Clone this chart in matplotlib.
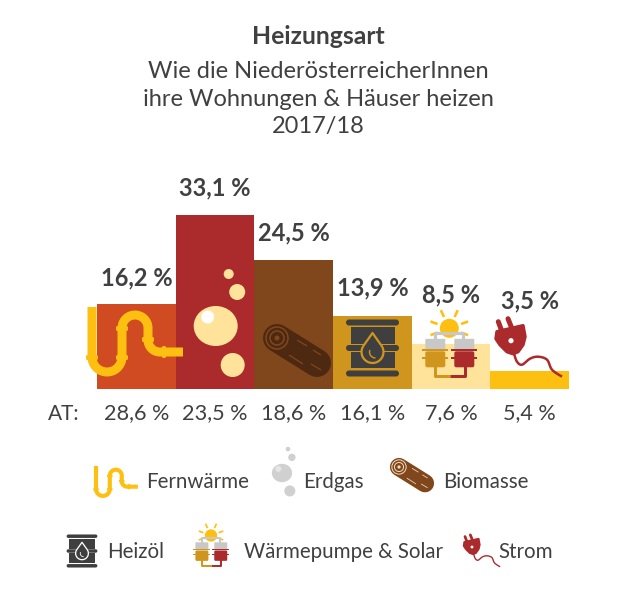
import numpy as np
import matplotlib
matplotlib.use("Agg")
import matplotlib.pyplot as plt
from matplotlib.patches import Circle, Ellipse, Rectangle, FancyBboxPatch

categories = ["Fernwärme", "Erdgas", "Biomasse", "Heizöl", "Wärmepumpe & Solar", "Strom"]
noe_values = [16.2, 33.1, 24.5, 13.9, 8.5, 3.5]
at_values = [28.6, 23.5, 18.6, 16.1, 7.6, 5.4]
bar_colors = ["#D04A22", "#AB2A2C", "#80471C", "#D0951C", "#FFE39B", "#FDC010"]
title = "Heizungsart"
subtitle = ["Wie die NiederösterreicherInnen", "ihre Wohnungen & Häuser heizen", "2017/18"]
label_lift = [26, 27, 27, 28, 49, 70]

TXT = "#404040"; GOLD = "#FDC010"; CREAM = "#FFE39B"; RED = "#AB2A2C"
BROWN = "#80471C"; DARKB = "#4E2912"; OCHRE = "#D0951C"; GREY = "#D0D0D0"; DARK = "#3F3F3F"
W, H = 636, 600
plt.rcParams["font.family"] = ["Lato", "DejaVu Sans"]
fig = plt.figure(figsize=(W / 100, H / 100), dpi=100)

base, top = 389, 215
ax = fig.add_axes([97 / W, 1 - base / H, (569 - 97) / W, (base - top) / H])
ax.set_xlim(-0.5, 5.5); ax.set_ylim(0, max(noe_values)); ax.axis("off")
ax.bar(range(6), noe_values, width=1.0, color=bar_colors, zorder=1, clip_on=False)

ov = fig.add_axes([0, 0, 1, 1], zorder=5)
ov.set_xlim(0, W); ov.set_ylim(H, 0); ov.axis("off"); ov.patch.set_alpha(0)
px = 72 / 100


def fmt(v):
    return f"{v:.1f}".replace(".", ",") + " %"


for i, v in enumerate(noe_values):
    ax.annotate(fmt(v), (i, v), xytext=(0, label_lift[i] * px), textcoords="offset points", ha="center", va="center",
                fontsize=17, fontweight="bold", color=TXT, zorder=6, annotation_clip=False)
    ax.annotate(fmt(at_values[i]), (i, 0), xytext=(0, -24.5 * px), textcoords="offset points", ha="center", va="center",
                fontsize=15.6, color=TXT, zorder=6, annotation_clip=False)
ov.text(48, 413.5, "AT:", ha="left", va="center", fontsize=15, color=TXT)
ov.text(318, 37, title, ha="center", va="center", fontsize=17.8, fontweight="bold", color=TXT)
for t, y in zip(subtitle, [71, 99, 127]):
    ov.text(318, y, t, ha="center", va="center", fontsize=17, color=TXT)


def P(pts, cx, cy, s):
    return [(cx + x * s, cy + y * s) for x, y in pts]


def line(pts, cx, cy, s, color, lw, cap="butt", z=7):
    a = np.array(P(pts, cx, cy, s))
    ov.plot(a[:, 0], a[:, 1], color=color, lw=lw * s * px, solid_capstyle=cap, solid_joinstyle="round", zorder=z)


def arc(c, r, a0, a1, n=24):
    t = np.radians(np.linspace(a0, a1, n))
    return [(c[0] + r * np.cos(k), c[1] + r * np.sin(k)) for k in t]


def smooth(pts, n=10):
    p = np.array([pts[0]] + list(pts) + [pts[-1]], float)
    out = []
    for i in range(1, len(p) - 2):
        for t in np.linspace(0, 1, n, endpoint=False):
            out.append(0.5 * (2 * p[i] + (p[i + 1] - p[i - 1]) * t
                              + (2 * p[i - 1] - 5 * p[i] + 4 * p[i + 1] - p[i + 2]) * t ** 2
                              + (3 * p[i] - p[i - 1] - 3 * p[i + 1] + p[i + 2]) * t ** 3))
    out.append(p[-2])
    return [tuple(q) for q in out]


def rect(x, y, w, h, cx, cy, s, color, z=7, rad=0):
    if rad:
        ov.add_patch(FancyBboxPatch((cx + x * s, cy + y * s), w * s, h * s,
                                    boxstyle=f"round,pad=0,rounding_size={rad * s}", fc=color, ec="none", zorder=z))
    else:
        ov.add_patch(Rectangle((cx + x * s, cy + y * s), w * s, h * s, fc=color, ec="none", zorder=z))


def pipe(cx, cy, s):
    pts = [(92, 307), (92, 357)] + arc((107, 357), 15, 180, 0) + [(122, 328)] + arc((135, 328), 13, 180, 360) + \
          [(148, 340)] + arc((160, 340), 12, 180, 90) + [(183, 352)]
    ox, oy = cx - 92 * s, cy - 307 * s
    line(pts, ox, oy, s, GOLD, 9)
    for x, y, w, h in [(86, 355, 12, 5), (116, 355, 12, 5), (116, 326, 12, 5), (142, 337, 12, 5), (162, 346, 4, 12)]:
        rect(x, y, w, h, ox, oy, s, GOLD, z=8, rad=1.5)


def bubbles(cx, cy, s, col, hl):
    ov.add_patch(Ellipse((cx, cy), 44 * s, 40 * s, fc=col, ec="none", zorder=7))
    ov.add_patch(Circle((cx - 8 * s, cy - 9 * s), 6.5 * s, fc=hl, ec="none", zorder=8))
    for dx, dy, r in [(13, -52, 5), (21.5, -34, 8), (17, 39, 12)]:
        ov.add_patch(Circle((cx + dx * s, cy + dy * s), r * s, fc=col, ec="none", zorder=7))


def log(cx, cy, s, body, ring):
    line([(0, 0), (40, 25)], cx, cy, s, body, 28, cap="round")
    for r in (11, 7):
        ov.add_patch(Circle((cx, cy), r * s, fc="none", ec=ring, lw=max(0.6, 1.1 * s), zorder=8))
    ov.add_patch(Circle((cx, cy), 2.5 * s, fc=ring, ec="none", zorder=8))
    for a, b in [((20, 2), (30, 8)), ((36, 12), (44, 17)), ((12, 17), (26, 26)), ((34, 26), (44, 32))]:
        line([a, b], cx, cy, s, ring, 1.2, z=8)


def barrel(cx, cy, s, gap):
    rect(-22, -21, 44, 17, cx, cy, s, DARK)
    rect(-22, 3.7, 44, 16.5, cx, cy, s, DARK)
    for y in (-25.5, 0, 25.5):
        rect(-26.5, y - 3, 53, 6, cx, cy, s, DARK, z=8, rad=3)
    drop = P([(0, -15)] + arc((0, 4), 11, -35, 215) + [(0, -15)], cx, cy, s)
    ov.add_patch(plt.Polygon(drop, closed=True, fc=DARK, ec=gap, lw=max(0.7, 1.6 * s), joinstyle="round", zorder=9))
    line(arc((3, 4), 6, 90, 200, 10), cx, cy, s, gap, 1.4, z=10)


def heatpump(cx, cy, s):
    ov.add_patch(Circle((cx, cy), 9.5 * s, fc=GOLD, ec="none", zorder=7))
    for a in (200, 245, 295, 340, 160, 20):
        r = np.radians(a)
        line([(12.5 * np.cos(r), 12.5 * np.sin(r)), (20 * np.cos(r), 20 * np.sin(r))], cx, cy, s, GOLD, 2.6)
    line([(-14, 11), (-14, 4.5), (14, 4.5), (14, 11)], cx, cy, s, "#C8C8C8", 3.2, z=8)
    for x0, col in [(-24, OCHRE), (5, RED)]:
        rect(x0, 10.5, 20, 11.5, cx, cy, s, "#C8C8C8", z=8, rad=1)
        rect(x0, 23, 20, 16, cx, cy, s, col, z=8, rad=2)
        rect(x0 - 3, 21, 26, 2, cx, cy, s, col, z=9)
        rect(x0 - 3, 28.5, 26, 2, cx, cy, s, col, z=9)
    line([(-14, 38), (-14, 47.5), (1, 47.5)], cx, cy, s, OCHRE, 3, z=8)
    line([(1, 47.5), (16, 47.5), (16, 38)], cx, cy, s, RED, 3, z=8)


def plug(cx, cy, s, col, hole):
    for a, b in [((-12.7, -19), (-9, -9)), ((-3, -22), (1, -12))]:
        line([a, b], cx, cy, s, col, 5, cap="round")
    body = [(-14, -9), (12, -15), (14, -4), (12, 4), (7, 11), (2, 13), (-4, 11), (-11, 4), (-15, -2)]
    ov.add_patch(plt.Polygon(P(body, cx, cy, s), closed=True, fc=col, ec=col, lw=2.5 * s, joinstyle="round", zorder=7))
    ov.add_patch(Circle((cx, cy), 2.6 * s, fc=hole, ec="none", zorder=8))
    cable = [(3, 13), (6, 21), (11, 24), (19, 18), (27, 16), (36, 19), (41, 29), (51, 36)]
    line(smooth(cable), cx, cy, s, col, 2.5)


pipe(92, 307, 1.0)
bubbles(215.7, 326, 1.0, CREAM, "white")
log(277, 338, 1.0, DARKB, BROWN)
barrel(372.5, 348, 1.0, OCHRE)
heatpump(449.3, 328.3, 1.0)
plug(511, 340.7, 1.0, RED, "white")

pipe(96, 466, 0.46)
bubbles(282, 473, 0.46, GREY, "#E6E6E6")
log(399, 467, 0.65, BROWN, "#F0D9BE")
barrel(82, 551, 0.58, "white")
heatpump(211, 535.5, 0.65)
plug(472, 547, 0.55, RED, "white")

legend_x = [146, 303, 443, 107, 244, 498]
legend_y = [482, 482, 482, 552, 552, 552]
for name, x, y in zip(categories, legend_x, legend_y):
    ov.text(x, y, name, ha="left", va="center", fontsize=14.8, color=TXT)

fig.savefig("out.png", dpi=100, facecolor="white")
